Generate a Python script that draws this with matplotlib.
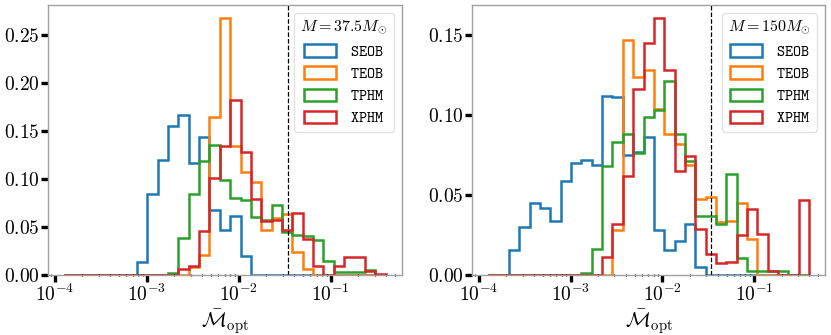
import numpy as np
import matplotlib
matplotlib.use("Agg")
import matplotlib.pyplot as plt
from matplotlib.patches import Patch
from matplotlib.ticker import FormatStrFormatter, LogLocator, NullFormatter

plt.rcParams['font.family'] = 'serif'
plt.rcParams['font.serif'] = ['cmr10']
plt.rcParams['mathtext.fontset'] = 'cm'
plt.rcParams['axes.formatter.use_mathtext'] = True

# shared log bins (31 bins)
bin_lo, bin_hi, n_bins = 1.27e-4, 0.395, 31
mismatch_cut = 0.034

labels = ["SEOB", "TEOB", "TPHM", "XPHM"]
colors = ["tab:blue", "tab:orange", "tab:green", "tab:red"]

# M = 37.5 Msun
seob_375 = [0, 0, 0, 0, 0, 0, 0, 0.014, 0.084, 0.120, 0.155, 0.167, 0.117, 0.144, 0.068, 0.047,
            0.062, 0.020, 0, 0, 0, 0, 0, 0, 0, 0, 0, 0, 0, 0, 0]
teob_375 = [0, 0, 0, 0, 0, 0, 0, 0, 0, 0, 0, 0, 0.008, 0.021, 0.165, 0.268,
            0.134, 0.107, 0.097, 0.047, 0.059, 0.064, 0.0235, 0.006, 0, 0, 0, 0, 0, 0, 0]
tphm_375 = [0, 0, 0, 0, 0, 0, 0, 0, 0, 0, 0.002, 0.039, 0.084, 0.119, 0.136, 0.099,
            0.080, 0.078, 0.060, 0.057, 0.073, 0.045, 0.042, 0.041, 0.036, 0.0145, 0.003, 0.003, 0.003, 0.005, 0]
xphm_375 = [0, 0, 0, 0, 0, 0, 0, 0, 0, 0, 0, 0.006, 0.0097, 0.046, 0.101, 0.134,
            0.182, 0.128, 0.079, 0.056, 0.057, 0.047, 0.065, 0.038, 0.0097, 0, 0.0097, 0.019, 0.019, 0.004, 0.0015]

# M = 150 Msun
seob_150 = [0, 0, 0.0156, 0.030, 0.045, 0.042, 0.0335, 0.059, 0.070, 0.072, 0.069, 0.112, 0.111, 0.075, 0.077, 0.086,
            0.028, 0.0156, 0.021, 0.032, 0.0050, 0, 0, 0, 0, 0, 0, 0, 0, 0, 0]
teob_150 = [0, 0, 0, 0, 0, 0, 0, 0, 0, 0, 0, 0, 0.028, 0.147, 0.1235, 0.128,
            0.104, 0.088, 0.082, 0.069, 0.0475, 0.0485, 0.033, 0.0335, 0.0448, 0.0225, 0, 0, 0, 0, 0]
tphm_150 = [0, 0, 0, 0, 0, 0, 0, 0, 0, 0.0015, 0.016, 0.068, 0.083, 0.088, 0.076, 0.0985,
            0.103, 0.121, 0.088, 0.071, 0.0367, 0.0367, 0.032, 0.063, 0.0106, 0.0023, 0.0023, 0.0023, 0.0023, 0, 0]
xphm_150 = [0, 0, 0, 0, 0, 0, 0, 0, 0, 0, 0, 0.0115, 0.032, 0.062, 0.116, 0.145,
            0.1606, 0.128, 0.065, 0.0746, 0.029, 0.013, 0.0073, 0.008, 0.025, 0.041, 0.0256, 0.0027, 0, 0, 0.047]

panels = [
    (r"$M = 37.5 M_{\odot}$", [seob_375, teob_375, tphm_375, xphm_375]),
    (r"$M = 150 M_{\odot}$", [seob_150, teob_150, tphm_150, xphm_150]),
]

bins = np.logspace(np.log10(bin_lo), np.log10(bin_hi), n_bins + 1)

fig = plt.figure(figsize=(8.31, 3.35), dpi=100)
axes = [fig.add_axes([0.0581, 0.179, 0.4253, 0.806]),
        fig.add_axes([0.5684, 0.179, 0.4244, 0.806])]

for ax, (title, series) in zip(axes, panels):
    handles = []
    for h, lab, c in zip(series, labels, colors):
        ax.stairs(h, bins, color=c, lw=1.8)
        handles.append(Patch(facecolor='none', edgecolor=c, lw=1.8, label=r"$\mathtt{%s}$" % lab))
    ax.axvline(mismatch_cut, color='k', ls='--', lw=0.9)
    ax.set_xscale('log')
    ax.set_xlabel(r"$\bar{\mathcal{M}}_{\rm opt}$", fontsize=15, labelpad=2)
    ax.yaxis.set_major_formatter(FormatStrFormatter(r"$%.2f$"))
    ax.xaxis.set_major_locator(LogLocator(base=10, numticks=10))
    ax.xaxis.set_minor_locator(LogLocator(base=10, subs=np.arange(2, 10), numticks=10))
    ax.xaxis.set_minor_formatter(NullFormatter())
    ax.tick_params(which='major', direction='out', length=5, width=2.4, labelsize=14, pad=1)
    ax.tick_params(which='minor', direction='inout', length=1.5, width=1)
    for s in ax.spines.values():
        s.set_color('#a0a0a0')
        s.set_linewidth(1.0)
    leg = ax.legend(handles=handles, title=title, loc='upper right', fontsize=11, title_fontsize=11.5,
                    handlelength=2.1, handleheight=0.9, handletextpad=0.9, borderaxespad=0.5)
    leg.get_frame().set_edgecolor('#dddddd')

axes[0].set_yticks([0, 0.05, 0.10, 0.15, 0.20, 0.25])
axes[1].set_yticks([0, 0.05, 0.10, 0.15])

fig.savefig("out.png", dpi=100)
